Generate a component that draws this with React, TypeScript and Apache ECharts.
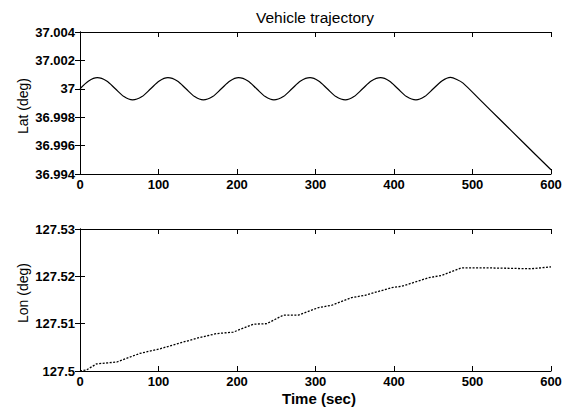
import React, { useEffect, useRef } from "react";
import * as echarts from "echarts";

const xTicks = [0, 100, 200, 300, 400, 500, 600];
const latTicks = [36.994, 36.996, 36.998, 37.0, 37.002, 37.004];
const lonTicks = [127.5, 127.51, 127.52, 127.53];

const latTimes = [
  0, 11, 22, 34, 45, 56, 67, 79, 90, 101, 112, 124, 135, 146, 157, 169, 180, 191, 202, 214, 225, 236, 247, 259,
  270, 281, 293, 304, 315, 326, 338, 349, 360, 371, 383, 394, 405, 416, 428, 439, 450, 461, 472, 480, 488, 510, 535,
  565, 600,
];
const latValues = [
  37.0, 37.00055, 37.00078, 37.00055, 37.0, 36.99945, 36.99922, 36.99945, 37.0, 37.00055, 37.00078, 37.00055, 37.0,
  36.99945, 36.99922, 36.99945, 37.0, 37.00055, 37.00078, 37.00055, 37.0, 36.99945, 36.99922, 36.99945, 37.0,
  37.00055, 37.00078, 37.00055, 37.0, 36.99945, 36.99922, 36.99945, 37.0, 37.00055, 37.00078, 37.00055, 37.0,
  36.99945, 36.99922, 36.99945, 37.0, 37.00055, 37.0008, 37.00066, 37.0004, 36.9992, 36.99784, 36.9962, 36.9943,
];

const lonTimes = [
  0, 8, 21, 47, 76, 102, 127, 153, 174, 195, 221, 238, 259, 278, 304, 321, 346, 363, 397, 410, 444, 461, 486, 516,
  575, 600,
];
const lonValues = [
  127.5, 127.5002, 127.5015, 127.5019, 127.5037, 127.5047, 127.5059, 127.5071, 127.5079, 127.5082, 127.5099,
  127.51, 127.5118, 127.5118, 127.5134, 127.5139, 127.5155, 127.516, 127.5176, 127.5179, 127.5197, 127.5202,
  127.5218, 127.5218, 127.5216, 127.522,
];

const FONT = "'Liberation Sans', Arial, sans-serif";

export default function App() {
  const ref = useRef<HTMLDivElement>(null);
  useEffect(() => {
    if (!ref.current) return;
    const chart = echarts.init(ref.current, null, { renderer: "svg" });
    const axisLine = { show: true, lineStyle: { color: "#000", width: 1 } };
    const tick = { show: true, inside: true, length: 5, lineStyle: { color: "#000", width: 1 } };
    const lbl = { fontFamily: FONT, fontSize: 13, fontWeight: "bold" as const, color: "#000" };
    const xBase = (gridIndex: number, position: "bottom" | "top", showLabel: boolean) => ({
      type: "value" as const,
      gridIndex,
      position,
      min: xTicks[0],
      max: xTicks[xTicks.length - 1],
      interval: 100,
      axisLine,
      axisTick: tick,
      splitLine: { show: false },
      axisLabel: { ...lbl, show: showLabel, margin: 4 },
    });
    const yBase = (
      gridIndex: number,
      position: "left" | "right",
      ticks: number[],
      interval: number,
      digits: number,
      showLabel: boolean
    ) => ({
      type: "value" as const,
      gridIndex,
      position,
      min: ticks[0],
      max: ticks[ticks.length - 1],
      interval,
      axisLine,
      axisTick: tick,
      splitLine: { show: false },
      axisLabel: {
        ...lbl,
        show: showLabel,
        margin: 5,
        formatter: (v: number) => String(Number(v.toFixed(digits))),
      },
    });
    const toPairs = (xs: number[], ys: number[]) => xs.map((x, i) => [x, ys[i]]);
    chart.setOption({
      animation: false,
      backgroundColor: "#fff",
      grid: [
        { left: 80, width: 471, top: 32, height: 142 },
        { left: 80, width: 471, top: 229, height: 142 },
      ],
      xAxis: [xBase(0, "bottom", true), xBase(0, "top", false), xBase(1, "bottom", true), xBase(1, "top", false)],
      yAxis: [
        yBase(0, "left", latTicks, 0.002, 3, true),
        yBase(0, "right", latTicks, 0.002, 3, false),
        yBase(1, "left", lonTicks, 0.01, 2, true),
        yBase(1, "right", lonTicks, 0.01, 2, false),
      ],
      series: [
        {
          type: "line",
          xAxisIndex: 0,
          yAxisIndex: 0,
          data: toPairs(latTimes, latValues),
          smooth: 0.3,
          showSymbol: false,
          lineStyle: { color: "#000", width: 1.2 },
        },
        {
          type: "line",
          xAxisIndex: 2,
          yAxisIndex: 2,
          data: toPairs(lonTimes, lonValues),
          showSymbol: false,
          lineStyle: { color: "#000", width: 1.3, type: [2, 1.5] },
        },
      ],
      graphic: [
        {
          type: "text",
          x: 315,
          y: 17,
          style: {
            text: "Vehicle trajectory",
            font: `15.5px ${FONT}`,
            fill: "#000",
            textAlign: "center",
            textVerticalAlign: "middle",
          },
        },
        {
          type: "text",
          x: 23,
          y: 106,
          rotation: Math.PI / 2,
          style: {
            text: "Lat (deg)",
            font: `14px ${FONT}`,
            fill: "#000",
            textAlign: "center",
            textVerticalAlign: "middle",
          },
        },
        {
          type: "text",
          x: 23,
          y: 293,
          rotation: Math.PI / 2,
          style: {
            text: "Lon (deg)",
            font: `14px ${FONT}`,
            fill: "#000",
            textAlign: "center",
            textVerticalAlign: "middle",
          },
        },
        {
          type: "text",
          x: 319,
          y: 398,
          style: {
            text: "Time (sec)",
            font: `bold 15px ${FONT}`,
            fill: "#000",
            textAlign: "center",
            textVerticalAlign: "middle",
          },
        },
      ],
    });
    return () => chart.dispose();
  }, []);
  return <div ref={ref} style={{ width: 570, height: 410, position: "fixed", left: 0, top: 0 }} />;
}
